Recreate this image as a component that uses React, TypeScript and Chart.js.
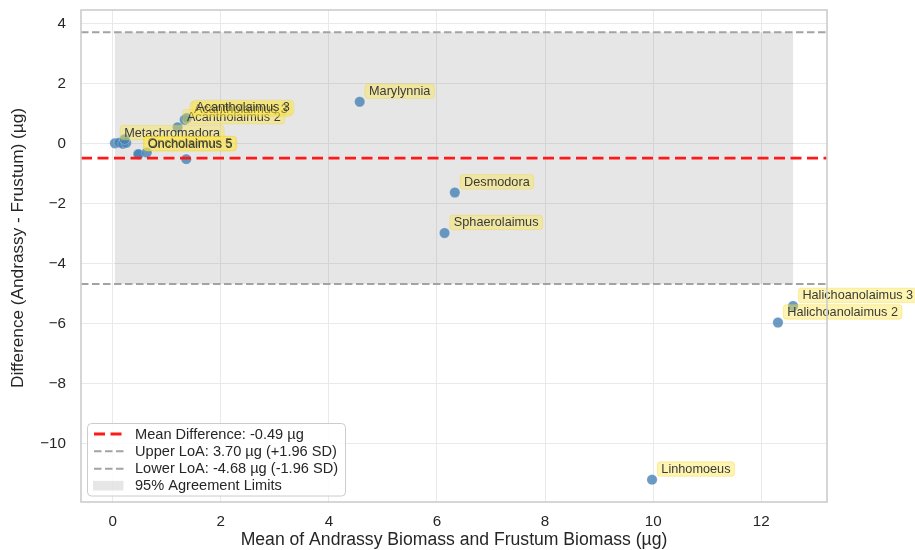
import React, { useEffect, useRef } from 'react';
import { Chart, registerables } from 'chart.js';

Chart.register(...registerables);

// Per-genus Bland–Altman values: mean of the two biomass estimates and their difference (µg)
const genusNames = [
  'Metachromadora', '', '', '', '',
  'Oncholaimus 5', 'Oncholaimus 5', '', '',
  'Acantholaimus 2', 'Acantholaimus 3', 'Acantholaimus 3',
  'Marylynnia', 'Desmodora', 'Sphaerolaimus', 'Linhomoeus',
  'Halichoanolaimus 2', 'Halichoanolaimus 3',
];
const meanBiomass = [
  0.04, 0.12, 0.19, 0.25, 0.22,
  0.47, 0.48, 0.63, 1.36,
  1.20, 1.33, 1.37,
  4.57, 6.33, 6.14, 9.98,
  12.31, 12.59,
];
const diffBiomass = [
  0.01, 0.03, -0.01, 0.02, 0.14,
  -0.35, -0.36, -0.30, -0.52,
  0.54, 0.79, 0.85,
  1.39, -1.63, -2.98, -11.19,
  -5.96, -5.41,
];

const meanDifference = -0.49;
const upperLoA = 3.70;
const lowerLoA = -4.68;

const xTickValues = [0, 2, 4, 6, 8, 10, 12];
const yTickValues = [-10, -8, -6, -4, -2, 0, 2, 4];

const FONT = '"Liberation Sans", Arial, Helvetica, sans-serif';
const TEXT = '#262626';
const BAND_FILL = 'rgba(128,128,128,0.2)';
const RED = '#ff1a1a';
const GREY_LINE = '#a3a3a3';

function fmt(v: number): string {
  return v.toFixed(2);
}

export default function App() {
  const canvasRef = useRef<HTMLCanvasElement | null>(null);

  useEffect(() => {
    const canvas = canvasRef.current;
    if (!canvas) return;

    const xMinData = Math.min(...meanBiomass);
    const xMaxData = Math.max(...meanBiomass);
    const yLo = Math.min(...diffBiomass, lowerLoA);
    const yHi = Math.max(...diffBiomass, upperLoA);
    const xPad = (xMaxData - xMinData) * 0.05;
    const yPad = (yHi - yLo) * 0.05;

    const blandAltman = {
      id: 'blandAltman',
      beforeDatasetsDraw(chart: any) {
        const { ctx, chartArea, scales } = chart;
        const xs = scales.x;
        const ys = scales.y;
        ctx.save();
        ctx.beginPath();
        ctx.rect(chartArea.left, chartArea.top, chartArea.right - chartArea.left, chartArea.bottom - chartArea.top);
        ctx.clip();
        // 95% agreement band over the observed range of means
        const x0 = xs.getPixelForValue(xMinData);
        const x1 = xs.getPixelForValue(xMaxData);
        const y0 = ys.getPixelForValue(upperLoA);
        const y1 = ys.getPixelForValue(lowerLoA);
        ctx.fillStyle = BAND_FILL;
        ctx.fillRect(x0, y0, x1 - x0, y1 - y0);
        ctx.restore();
      },
      afterDatasetsDraw(chart: any) {
        const { ctx, chartArea, scales } = chart;
        const xs = scales.x;
        const ys = scales.y;
        ctx.save();
        ctx.beginPath();
        ctx.rect(chartArea.left, chartArea.top, chartArea.right - chartArea.left, chartArea.bottom - chartArea.top);
        ctx.clip();

        const hline = (v: number, color: string, width: number, dash: number[]) => {
          const py = ys.getPixelForValue(v);
          ctx.beginPath();
          ctx.setLineDash(dash);
          ctx.strokeStyle = color;
          ctx.lineWidth = width;
          ctx.moveTo(chartArea.left, py);
          ctx.lineTo(chartArea.right, py);
          ctx.stroke();
        };
        hline(upperLoA, GREY_LINE, 2, [7.5, 3.5]);
        hline(lowerLoA, GREY_LINE, 2, [7.5, 3.5]);
        hline(meanDifference, RED, 2.8, [11, 5.5]);
        ctx.setLineDash([]);
        ctx.restore();

        // genus annotations
        ctx.save();
        ctx.font = `12.7px ${FONT}`;
        ctx.textBaseline = 'middle';
        ctx.textAlign = 'left';
        genusNames.forEach((name, i) => {
          if (!name) return;
          const px = xs.getPixelForValue(meanBiomass[i]);
          const py = ys.getPixelForValue(diffBiomass[i]);
          const tx = px + 9.3;
          const ty = py - 10.6;
          const w = ctx.measureText(name).width;
          const bx = tx - 4;
          const by = ty - 7.2;
          const bw = w + 8;
          const bh = 14.4;
          ctx.beginPath();
          ctx.roundRect(bx, by, bw, bh, 3);
          ctx.fillStyle = 'rgba(252,228,70,0.42)';
          ctx.fill();
          ctx.strokeStyle = 'rgba(240,210,40,0.35)';
          ctx.lineWidth = 1;
          ctx.stroke();
          ctx.fillStyle = '#3a3a3a';
          ctx.fillText(name, tx, ty + 0.5);
        });
        ctx.restore();
      },
      afterDraw(chart: any) {
        const { ctx, chartArea } = chart;
        ctx.save();
        // axes frame
        ctx.strokeStyle = '#cccccc';
        ctx.lineWidth = 1.6;
        ctx.strokeRect(chartArea.left, chartArea.top, chartArea.right - chartArea.left, chartArea.bottom - chartArea.top);

        // axis titles
        ctx.fillStyle = TEXT;
        ctx.font = `17.6px ${FONT}`;
        ctx.textAlign = 'center';
        ctx.textBaseline = 'middle';
        ctx.fillText('Mean of Andrassy Biomass and Frustum Biomass (µg)', (chartArea.left + chartArea.right) / 2, 540);
        ctx.save();
        ctx.font = `17.2px ${FONT}`;
        ctx.translate(18, (chartArea.top + chartArea.bottom) / 2 - 8);
        ctx.rotate(-Math.PI / 2);
        ctx.fillText('Difference (Andrassy - Frustum) (µg)', 0, 0);
        ctx.restore();

        // legend
        const lx = 87.5;
        const ly = 423.5;
        const lw = 258;
        const lh = 72.5;
        ctx.beginPath();
        ctx.roundRect(lx, ly, lw, lh, 4);
        ctx.fillStyle = 'rgba(255,255,255,0.85)';
        ctx.fill();
        ctx.strokeStyle = '#cccccc';
        ctx.lineWidth = 1;
        ctx.stroke();

        const rows = [434, 451.3, 468.8, 485.7];
        const hx0 = 94;
        const hx1 = 123.5;
        const seg = (y: number, color: string, width: number, dash: number[]) => {
          ctx.beginPath();
          ctx.setLineDash(dash);
          ctx.strokeStyle = color;
          ctx.lineWidth = width;
          ctx.moveTo(hx0, y);
          ctx.lineTo(hx1, y);
          ctx.stroke();
        };
        seg(rows[0], RED, 2.8, [11, 5.5]);
        seg(rows[1], GREY_LINE, 2, [7.5, 3.5]);
        seg(rows[2], GREY_LINE, 2, [7.5, 3.5]);
        ctx.setLineDash([]);
        ctx.fillStyle = BAND_FILL;
        ctx.fillRect(93, rows[3] - 4.8, 30.5, 9.6);

        ctx.fillStyle = TEXT;
        ctx.font = `14.6px ${FONT}`;
        ctx.textAlign = 'left';
        ctx.textBaseline = 'middle';
        const texts = [
          `Mean Difference: ${fmt(meanDifference)} µg`,
          `Upper LoA: ${fmt(upperLoA)} µg (+1.96 SD)`,
          `Lower LoA: ${fmt(lowerLoA)} µg (-1.96 SD)`,
          '95% Agreement Limits',
        ];
        texts.forEach((t, i) => ctx.fillText(t, 135, rows[i] + 0.5));
        ctx.restore();
      },
    };

    const chart = new Chart(canvas, {
      type: 'scatter',
      data: {
        datasets: [
          {
            data: meanBiomass.map((x, i) => ({ x, y: diffBiomass[i] })),
            backgroundColor: 'rgba(70,130,180,0.8)',
            borderColor: 'rgba(255,255,255,0.5)',
            borderWidth: 0.5,
            pointRadius: 5.2,
            pointHoverRadius: 5.2,
          },
        ],
      },
      options: {
        responsive: false,
        animation: false,
        events: [],
        layout: { padding: { top: 10, right: 88, left: 0, bottom: 0 } },
        plugins: {
          legend: { display: false },
          tooltip: { enabled: false },
          title: { display: false },
        },
        scales: {
          x: {
            type: 'linear',
            position: 'bottom',
            min: xMinData - xPad,
            max: xMaxData + xPad,
            afterBuildTicks: (s: any) => {
              s.ticks = xTickValues.map((v) => ({ value: v }));
            },
            afterFit: (s: any) => {
              s.height = 48;
              s.paddingLeft = 0;
              s.paddingRight = 0;
            },
            grid: { color: '#e9e9e9', lineWidth: 1, drawTicks: false },
            border: { display: false },
            ticks: {
              padding: 11,
              color: TEXT,
              font: { family: FONT, size: 15.2 },
              maxRotation: 0,
              callback: (v: any) => String(v).replace('-', '\u2212'),
            },
          },
          y: {
            type: 'linear',
            min: yLo - yPad,
            max: yHi + yPad,
            afterBuildTicks: (s: any) => {
              s.ticks = yTickValues.map((v) => ({ value: v }));
            },
            afterFit: (s: any) => {
              s.width = 81;
              s.paddingTop = 0;
              s.paddingBottom = 0;
            },
            grid: { color: '#e9e9e9', lineWidth: 1, drawTicks: false },
            border: { display: false },
            ticks: {
              padding: 15,
              color: TEXT,
              font: { family: FONT, size: 15.2 },
              callback: (v: any) => String(v).replace('-', '\u2212'),
            },
          },
        },
      },
      plugins: [blandAltman],
    });

    return () => chart.destroy();
  }, []);

  return (
    <div style={{ position: 'absolute', left: 0, top: 0, width: 915, height: 550, background: '#ffffff' }}>
      <canvas ref={canvasRef} width={915} height={550} style={{ display: 'block' }} />
    </div>
  );
}
